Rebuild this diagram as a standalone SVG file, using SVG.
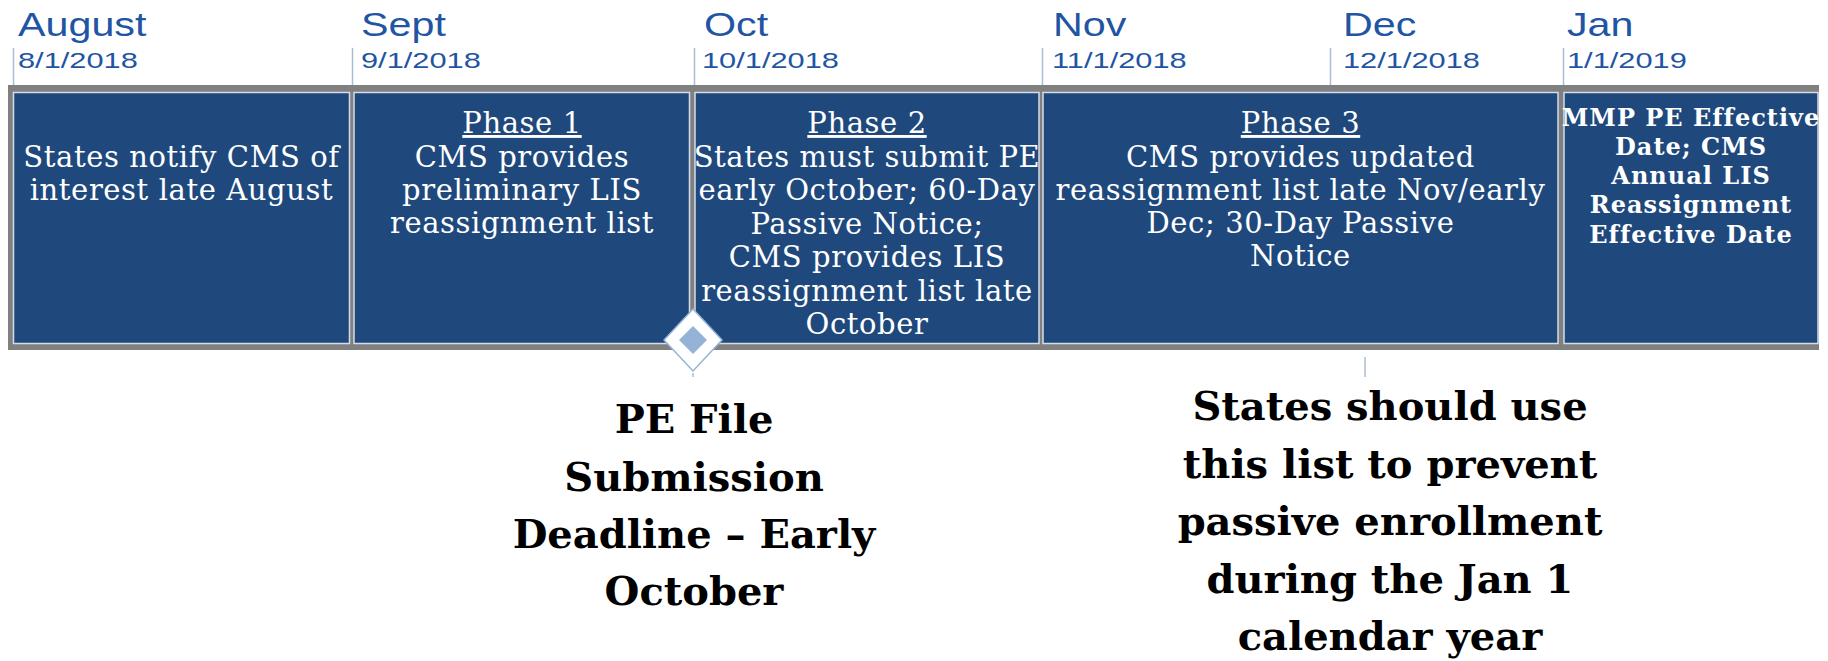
<svg xmlns="http://www.w3.org/2000/svg" width="1828" height="661" viewBox="0 0 1828 661">
<style>
.month{font-family:"Liberation Sans",Arial,sans-serif;font-size:33px;fill:#1F55A3}
.date{font-family:"Liberation Sans",Arial,sans-serif;font-size:22px;fill:#1F55A3}
.tick{stroke:#A9BCD6;stroke-width:1.5}
.box{fill:#1F497D;stroke:#D5DCE6;stroke-width:1.5}
.bt{font-family:"DejaVu Serif","Liberation Serif",serif;font-size:29px;letter-spacing:0.6px;fill:#FFFFFF;text-anchor:middle}
.bb{font-family:"DejaVu Serif","Liberation Serif",serif;font-size:24px;font-weight:bold;letter-spacing:1px;fill:#FFFFFF;text-anchor:middle}
.ul{text-decoration:underline}
.big{font-family:"DejaVu Serif","Liberation Serif",serif;font-size:40px;font-weight:bold;fill:#000000;text-anchor:middle}
</style>
<rect width="1828" height="661" fill="#FFFFFF"/>
<g id="scale">
<text class="month" transform="translate(18,36) scale(1.25,1)">August</text>
<text class="date" transform="translate(18,68) scale(1.4,1)">8/1/2018</text>
<text class="month" transform="translate(361,36) scale(1.25,1)">Sept</text>
<text class="date" transform="translate(361,68) scale(1.4,1)">9/1/2018</text>
<text class="month" transform="translate(704,36) scale(1.25,1)">Oct</text>
<text class="date" transform="translate(702,68) scale(1.4,1)">10/1/2018</text>
<text class="month" transform="translate(1053,36) scale(1.25,1)">Nov</text>
<text class="date" transform="translate(1052,68) scale(1.4,1)">11/1/2018</text>
<text class="month" transform="translate(1343,36) scale(1.25,1)">Dec</text>
<text class="date" transform="translate(1343,68) scale(1.4,1)">12/1/2018</text>
<text class="month" transform="translate(1567,36) scale(1.25,1)">Jan</text>
<text class="date" transform="translate(1567,68) scale(1.4,1)">1/1/2019</text>
</g>
<g id="connectors">
<line class="tick" x1="13.5" y1="48" x2="13.5" y2="85"/>
<line class="tick" x1="352.5" y1="48" x2="352.5" y2="85"/>
<line class="tick" x1="694.5" y1="48" x2="694.5" y2="85"/>
<line class="tick" x1="1042.5" y1="48" x2="1042.5" y2="85"/>
<line class="tick" x1="1330.5" y1="48" x2="1330.5" y2="85"/>
<line class="tick" x1="1563.5" y1="48" x2="1563.5" y2="85"/>
</g>
<rect id="frame" x="8" y="85" width="1811" height="265" fill="#808080"/>
<g id="node-aug">
<rect class="box" x="13.5" y="92.5" width="336" height="251"/>
<text class="bt" x="181.5" y="167">States notify CMS of</text>
<text class="bt" x="181.5" y="200">interest late August</text>
</g>
<g id="node-phase1">
<rect class="box" x="354" y="92.5" width="335.5" height="251"/>
<text class="bt ul" x="522" y="133">Phase 1</text>
<text class="bt" x="522" y="167">CMS provides</text>
<text class="bt" x="522" y="200">preliminary LIS</text>
<text class="bt" x="522" y="233">reassignment list</text>
</g>
<g id="node-phase2">
<rect class="box" x="695" y="92.5" width="344" height="251"/>
<text class="bt ul" x="867" y="133">Phase 2</text>
<text class="bt" x="867" y="167">States must submit PE</text>
<text class="bt" x="867" y="200">early October; 60-Day</text>
<text class="bt" x="867" y="234">Passive Notice;</text>
<text class="bt" x="867" y="267">CMS provides LIS</text>
<text class="bt" x="867" y="301">reassignment list late</text>
<text class="bt" x="867" y="334">October</text>
</g>
<g id="node-phase3">
<rect class="box" x="1043" y="92.5" width="515" height="251"/>
<text class="bt ul" x="1300.5" y="133">Phase 3</text>
<text class="bt" x="1300.5" y="167">CMS provides updated</text>
<text class="bt" x="1300.5" y="200">reassignment list late Nov/early</text>
<text class="bt" x="1300.5" y="233">Dec; 30-Day Passive</text>
<text class="bt" x="1300.5" y="266">Notice</text>
</g>
<g id="node-jan">
<rect class="box" x="1564" y="92.5" width="254" height="251"/>
<text class="bb" x="1691" y="126">MMP PE Effective</text>
<text class="bb" x="1691" y="155">Date; CMS</text>
<text class="bb" x="1691" y="184">Annual LIS</text>
<text class="bb" x="1691" y="213">Reassignment</text>
<text class="bb" x="1691" y="243">Effective Date</text>
</g>
<g id="markers">
<polygon points="693,309 722,340 693,371 664,340" fill="#FFFFFF" stroke="#95B3D7" stroke-width="1.5"/>
<polygon points="693,326 707,340 693,354 679,340" fill="#95B3D7"/>
<line x1="693" y1="373" x2="693" y2="377" stroke="#A9BCD6" stroke-width="1.5"/>
<line class="tick" x1="1365" y1="357" x2="1365" y2="377" stroke-width="2"/>
</g>
<g id="note-deadline">
<text class="big" x="694" y="433">PE File</text>
<text class="big" x="694" y="491">Submission</text>
<text class="big" x="694" y="548">Deadline – Early</text>
<text class="big" x="694" y="605">October</text>
</g>
<g id="note-list">
<text class="big" x="1390" y="420">States should use</text>
<text class="big" x="1390" y="478">this list to prevent</text>
<text class="big" x="1390" y="535">passive enrollment</text>
<text class="big" x="1390" y="593">during the Jan 1</text>
<text class="big" x="1390" y="650">calendar year</text>
</g>
</svg>
